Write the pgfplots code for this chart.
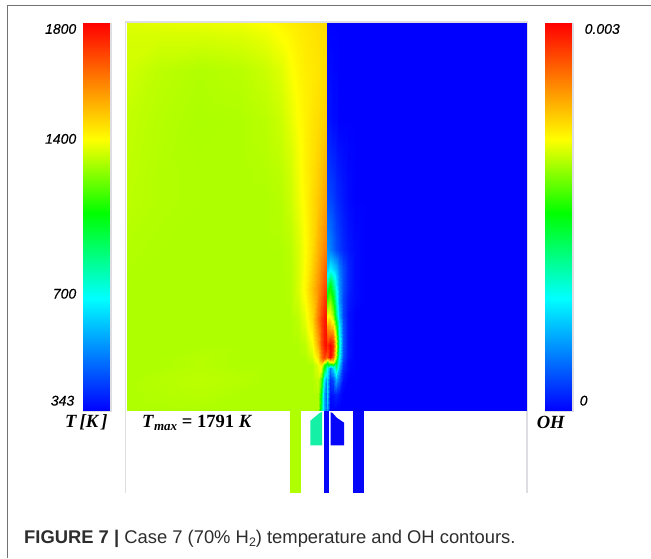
\documentclass[border=0pt]{standalone}
\usepackage{fontspec}
\setmainfont{Liberation Sans}
\newfontfamily\serifb{Liberation Serif}
\newfontfamily\tickf[FakeBold=0.35]{Liberation Sans Italic}
\usepackage{pgfplots}
\pgfplotsset{compat=1.18}
\definecolor{capc}{RGB}{45,45,45}
\definecolor{lgray}{RGB}{222,222,226}
\definecolor{fgray}{RGB}{115,115,115}
\definecolor{ygreen}{RGB}{176,255,0}
\definecolor{aqua}{RGB}{20,240,165}
\definecolor{nblue}{RGB}{5,5,250}
\begin{document}
\begin{tikzpicture}
\begin{axis}[
  scale only axis, width=651pt, height=558pt,
  xmin=0, xmax=651, ymin=0, ymax=558, y dir=reverse,
  hide axis, clip=false,
  colormap={rb}{rgb255(0)=(0,0,255); rgb255(29)=(0,255,255); rgb255(51)=(0,255,0); rgb255(70)=(255,255,0); rgb255(100)=(255,0,0)},
  point meta min=0, point meta max=100,
]
\path (axis cs:0,0) rectangle (axis cs:651,558);
% outer frame
\addplot[draw=fgray, line width=1pt] coordinates {(8,558)(8,6)(651,6)};
% walls
\addplot[draw=lgray, line width=1.6pt] coordinates {(125.5,493)(125.5,22.3)(527.5,22.3)(527.5,493)};
% colour bar backing
\addplot[fill=lgray, draw=none] coordinates {(83,23)(112,23)(112,412)(83,412)} --cycle;
\addplot[fill=lgray, draw=none] coordinates {(545,23)(574,23)(574,412)(545,412)} --cycle;
% colour bars
\addplot[surf, shader=interp, mesh/cols=2, point meta=explicit] table[row sep=\\, meta=c] {
x y c\\
83.5 23 100\\ 110 23 100\\
83.5 411 0\\ 110 411 0\\
};
\addplot[surf, shader=interp, mesh/cols=2, point meta=explicit] table[row sep=\\, meta=c] {
x y c\\
545.5 23 100\\ 571.5 23 100\\
545.5 411 0\\ 571.5 411 0\\
};
% nozzle parts
\addplot[fill=ygreen, draw=none] coordinates {(290,410)(301,410)(301,493)(290,493)} --cycle;
\addplot[fill=aqua, draw=none] coordinates {(310.7,421)(316,416.5)(320,413.2)(322.3,412.3)(322.3,445.7)(310.7,445.7)} --cycle;
\addplot[fill=nblue, draw=none] coordinates {(324.5,405)(329.3,405)(329.3,493)(324.5,493)} --cycle;
\addplot[fill=nblue, draw=none] coordinates {(330.8,412.5)(333,413.5)(337,418)(344.3,423)(344.3,445.7)(330.8,445.7)} --cycle;
\addplot[fill=nblue, draw=none] coordinates {(353.3,410)(364.3,410)(364.3,493)(353.3,493)} --cycle;
% temperature field, left half
\addplot[surf, shader=interp, mesh/cols=14, point meta=explicit] table[row sep=\\, meta=c] {
x y c\\
127 23 67.5\\ 160 23 68\\ 200 23 68.5\\ 240 23 69\\ 265 23 70\\ 280 23 71\\ 290 23 72\\ 298 23 72.5\\ 305 23 73\\ 312 23 73.5\\ 318 23 74\\ 321 23 74\\ 324 23 74.3\\ 327 23 74.5\\
127 35 67\\ 160 35 67\\ 200 35 67\\ 240 35 67.5\\ 265 35 68.5\\ 280 35 70\\ 290 35 71\\ 298 35 72\\ 305 35 72.5\\ 312 35 73\\ 318 35 73.5\\ 321 35 73.7\\ 324 35 74\\ 327 35 74\\
127 70 66.5\\ 160 70 65\\ 200 70 64.2\\ 240 70 64.8\\ 265 70 66\\ 280 70 67.5\\ 290 70 69.5\\ 298 70 71\\ 305 70 72\\ 312 70 72.5\\ 318 70 73\\ 321 70 73.5\\ 324 70 74\\ 327 70 74.5\\
127 120 65.5\\ 160 120 64.5\\ 200 120 63.8\\ 240 120 64\\ 265 120 64.8\\ 280 120 66\\ 290 120 68\\ 298 120 70\\ 305 120 71.5\\ 312 120 73\\ 318 120 74\\ 321 120 74.8\\ 324 120 75.5\\ 327 120 76\\
127 170 65.2\\ 160 170 64.3\\ 200 170 64\\ 240 170 64\\ 265 170 64.3\\ 280 170 65\\ 290 170 66.5\\ 298 170 69\\ 305 170 71.5\\ 312 170 73.5\\ 318 170 75.5\\ 321 170 77\\ 324 170 78.5\\ 327 170 79.5\\
127 200 65\\ 160 200 64.3\\ 200 200 64\\ 240 200 64\\ 265 200 64\\ 280 200 64.5\\ 290 200 66\\ 298 200 68.5\\ 305 200 71\\ 312 200 74\\ 318 200 76.5\\ 321 200 78.5\\ 324 200 80\\ 327 200 81\\
127 250 64.3\\ 160 250 64\\ 200 250 64\\ 240 250 64\\ 265 250 64\\ 280 250 64\\ 290 250 64.7\\ 298 250 67\\ 305 250 70\\ 312 250 74\\ 318 250 79\\ 321 250 81.5\\ 324 250 84\\ 327 250 85.5\\
127 290 64\\ 160 290 64\\ 200 290 64\\ 240 290 64\\ 265 290 64\\ 280 290 64\\ 290 290 64.3\\ 298 290 67\\ 305 290 71\\ 312 290 77\\ 318 290 83\\ 321 290 87\\ 324 290 91\\ 327 290 93\\
127 320 64\\ 160 320 64\\ 200 320 64\\ 240 320 64\\ 265 320 64\\ 280 320 64\\ 290 320 64\\ 298 320 65\\ 305 320 68\\ 312 320 74\\ 318 320 86\\ 321 320 92\\ 324 320 97\\ 327 320 98\\
127 345 64\\ 160 345 64\\ 200 345 64\\ 240 345 64\\ 265 345 64\\ 280 345 64\\ 290 345 64\\ 298 345 64\\ 305 345 65\\ 312 345 69\\ 318 345 80\\ 321 345 90\\ 324 345 97\\ 327 345 100\\
127 358 64\\ 160 358 64\\ 200 358 64.5\\ 240 358 64\\ 265 358 64\\ 280 358 64\\ 290 358 64\\ 298 358 64\\ 305 358 64\\ 312 358 66\\ 318 358 73\\ 321 358 85\\ 324 358 92\\ 327 358 85\\
127 365 64\\ 160 365 64\\ 200 365 64.5\\ 240 365 64\\ 265 365 64\\ 280 365 64\\ 290 365 64\\ 298 365 64\\ 305 365 64\\ 312 365 64\\ 318 365 68\\ 321 365 72\\ 324 365 55\\ 327 365 42\\
127 380 64\\ 160 380 64.5\\ 200 380 65\\ 240 380 64.5\\ 265 380 64\\ 280 380 64\\ 290 380 64\\ 298 380 64\\ 305 380 64\\ 312 380 64\\ 318 380 65.5\\ 321 380 58\\ 324 380 28\\ 327 380 12\\
127 395 64\\ 160 395 64.3\\ 200 395 64.5\\ 240 395 64\\ 265 395 64\\ 280 395 64\\ 290 395 64\\ 298 395 64\\ 305 395 64\\ 312 395 64\\ 318 395 64\\ 321 395 50\\ 324 395 20\\ 327 395 8\\
127 411 64\\ 160 411 64\\ 200 411 64\\ 240 411 64\\ 265 411 64\\ 280 411 64\\ 290 411 64\\ 298 411 64\\ 305 411 64\\ 312 411 64\\ 318 411 64\\ 321 411 45\\ 324 411 20\\ 327 411 10\\
};
% OH field, right half
\addplot[surf, shader=interp, mesh/cols=10, point meta=explicit] table[row sep=\\, meta=c] {
x y c\\
327 23 0\\ 330 23 0\\ 333 23 0\\ 336 23 0\\ 339 23 0\\ 343 23 0\\ 348 23 0\\ 355 23 0\\ 365 23 0\\ 527 23 0\\
327 120 2\\ 330 120 2\\ 333 120 1\\ 336 120 1\\ 339 120 0\\ 343 120 0\\ 348 120 0\\ 355 120 0\\ 365 120 0\\ 527 120 0\\
327 200 9\\ 330 200 8\\ 333 200 7\\ 336 200 5\\ 339 200 4\\ 343 200 2.5\\ 348 200 1\\ 355 200 0\\ 365 200 0\\ 527 200 0\\
327 250 17\\ 330 250 15\\ 333 250 12\\ 336 250 9\\ 339 250 7\\ 343 250 4.5\\ 348 250 2.5\\ 355 250 1\\ 365 250 0\\ 527 250 0\\
327 270 24\\ 330 270 29\\ 333 270 26\\ 336 270 22\\ 339 270 15\\ 343 270 9\\ 348 270 4\\ 355 270 1\\ 365 270 0\\ 527 270 0\\
327 285 40\\ 330 285 50\\ 333 285 40\\ 336 285 28\\ 339 285 17\\ 343 285 9\\ 348 285 4\\ 355 285 1\\ 365 285 0\\ 527 285 0\\
327 300 55\\ 330 300 60\\ 333 300 52\\ 336 300 35\\ 339 300 18\\ 343 300 8\\ 348 300 3\\ 355 300 1\\ 365 300 0\\ 527 300 0\\
327 315 68\\ 330 315 70\\ 333 315 62\\ 336 315 42\\ 339 315 22\\ 343 315 8\\ 348 315 2\\ 355 315 0\\ 365 315 0\\ 527 315 0\\
327 330 85\\ 330 330 82\\ 333 330 80\\ 336 330 60\\ 339 330 30\\ 343 330 10\\ 348 330 2\\ 355 330 0\\ 365 330 0\\ 527 330 0\\
327 345 95\\ 330 345 100\\ 333 345 95\\ 336 345 70\\ 339 345 35\\ 343 345 10\\ 348 345 2\\ 355 345 0\\ 365 345 0\\ 527 345 0\\
327 357 90\\ 330 357 100\\ 333 357 90\\ 336 357 65\\ 339 357 32\\ 343 357 9\\ 348 357 2\\ 355 357 0\\ 365 357 0\\ 527 357 0\\
327 362 55\\ 330 362 70\\ 333 362 72\\ 336 362 50\\ 339 362 28\\ 343 362 7\\ 348 362 1\\ 355 362 0\\ 365 362 0\\ 527 362 0\\
327 368 30\\ 330 368 15\\ 333 368 25\\ 336 368 40\\ 339 368 22\\ 343 368 5\\ 348 368 1\\ 355 368 0\\ 365 368 0\\ 527 368 0\\
327 380 25\\ 330 380 5\\ 333 380 8\\ 336 380 20\\ 339 380 12\\ 343 380 2\\ 348 380 0\\ 355 380 0\\ 365 380 0\\ 527 380 0\\
327 395 25\\ 330 395 2\\ 333 395 2\\ 336 395 4\\ 339 395 2\\ 343 395 0\\ 348 395 0\\ 355 395 0\\ 365 395 0\\ 527 395 0\\
327 411 20\\ 330 411 0\\ 333 411 0\\ 336 411 0\\ 339 411 0\\ 343 411 0\\ 348 411 0\\ 355 411 0\\ 365 411 0\\ 527 411 0\\
};
% labels
\node[anchor=east, inner sep=0pt] at (axis cs:76.5,29) {\tickf\fontsize{14}{16}\selectfont 1800};
\node[anchor=east, inner sep=0pt] at (axis cs:76.5,139) {\tickf\fontsize{14}{16}\selectfont 1400};
\node[anchor=east, inner sep=0pt] at (axis cs:76.5,294) {\tickf\fontsize{14}{16}\selectfont 700};
\node[anchor=east, inner sep=0pt] at (axis cs:74.5,401) {\tickf\fontsize{14}{16}\selectfont 343};
\node[anchor=west, inner sep=0pt] at (axis cs:585,29) {\tickf\fontsize{14}{16}\selectfont 0.003};
\node[anchor=west, inner sep=0pt] at (axis cs:580,401) {\tickf\fontsize{14}{16}\selectfont 0};
\node[anchor=west, inner sep=0pt] at (axis cs:65,423) {\serifb\bfseries\itshape\fontsize{18.6}{20}\selectfont T\,[K\,]};
\node[anchor=west, inner sep=0pt] at (axis cs:142,423) {\serifb\bfseries\fontsize{18.6}{20}\selectfont\textit{T}\raisebox{-3.5pt}{\fontsize{13}{14}\selectfont\textit{max}} = 1791 \textit{K}};
\node[anchor=west, inner sep=0pt] at (axis cs:537,423) {\serifb\bfseries\itshape\fontsize{18.6}{20}\selectfont OH};
\node[anchor=west, inner sep=0pt, text=capc] at (axis cs:24,539) {\fontsize{18.4}{20}\selectfont\textbf{FIGURE 7 |} Case 7 (70\% H\raisebox{-2.8pt}{\fontsize{12.4}{14}\selectfont 2}) temperature and OH contours.};
\end{axis}
\end{tikzpicture}
\end{document}
